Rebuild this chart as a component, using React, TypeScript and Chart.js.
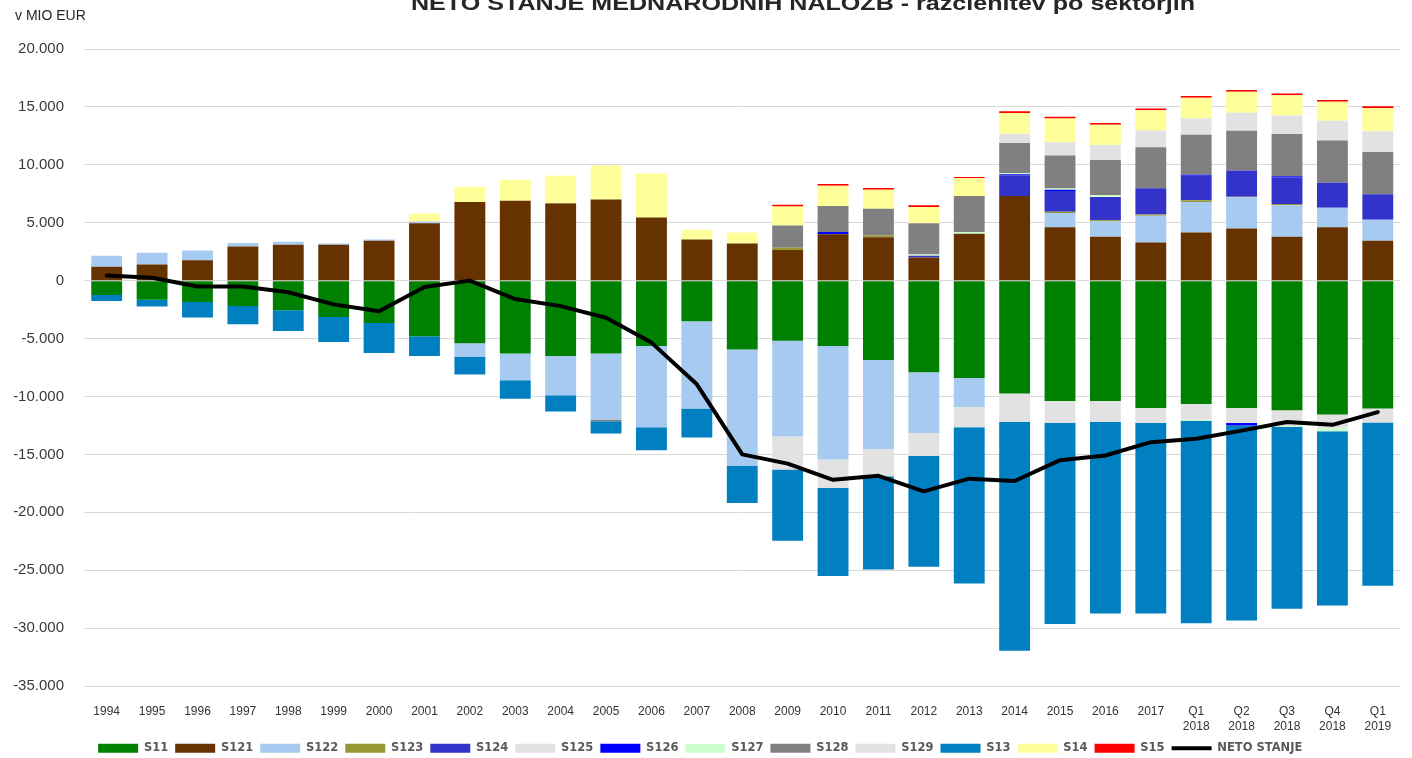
import { useEffect, useRef } from 'react';
import { Chart, registerables } from 'chart.js';

Chart.register(...registerables);

const TITLE = 'NETO STANJE MEDNARODNIH NALOŽB - razčlenitev po sektorjih';
const UNIT = 'v MIO EUR';

const categories: (string | string[])[] = [
  '1994', '1995', '1996', '1997', '1998', '1999', '2000', '2001', '2002', '2003',
  '2004', '2005', '2006', '2007', '2008', '2009', '2010', '2011', '2012', '2013',
  '2014', '2015', '2016', '2017',
  ['Q1', '2018'], ['Q2', '2018'], ['Q3', '2018'], ['Q4', '2018'], ['Q1', '2019'],
];

const s11 = [-1250, -1650, -1850, -2200, -2550, -3150, -3650, -4800, -5400, -6300,
  -6500, -6300, -5650, -3500, -5950, -5200, -5650, -6850, -7900, -8400,
  -9750, -10400, -10400, -11000, -10650, -11000, -11200, -11550, -11050];
const s121 = [1200, 1400, 1750, 2950, 3100, 3100, 3450, 4950, 6800, 6900,
  6650, 7000, 5450, 3550, 3200, 2650, 4000, 3750, 2000, 4050,
  7300, 4600, 3800, 3300, 4150, 4500, 3800, 4600, 3450];
const s122 = [950, 1000, 850, 300, 250, 100, 100, 150, -1200, -2300,
  -3400, -5700, -7000, -7550, -10050, -8250, -9800, -7700, -5250, -2500,
  0, 1250, 1300, 2300, 2650, 2700, 2700, 1700, 1800];
const s123 = [0, 0, 0, 0, 0, 0, 0, 0, 0, 0,
  60, 0, 0, 0, 0, 200, 0, 150, 0, 0,
  0, 100, 120, 120, 150, 50, 120, 0, 0];
const s124 = [0, 0, 0, 0, 0, 0, 0, 0, 0, 0,
  0, 0, 0, 0, 0, 0, 0, 0, 150, 0,
  1800, 1800, 2000, 2250, 2100, 2250, 2300, 2150, 2200];
const s125 = [0, 0, 0, 0, 0, 0, 0, 0, 0, 0,
  0, 0, 0, 0, 0, -2850, -2450, -2350, -2000, -1750,
  -2450, -1900, -1800, -1300, -1350, -1300, -1350, -1150, -1200];
const s126 = [0, 0, 0, 0, 0, 0, 0, 0, 0, 0,
  0, 0, 0, 0, 0, 0, 200, 0, 0, 0,
  80, 100, 0, 0, 90, -200, 90, 0, 0];
const s127 = [0, 0, 0, 0, 0, 0, 0, 0, 0, 0,
  0, 0, 0, 0, 0, 0, 0, 0, 100, 150,
  100, 100, 150, 0, -90, 0, -80, -300, 0];
const s128 = [0, 0, 0, 0, 0, 0, 0, 0, 0, 0,
  0, -150, 0, 0, 0, 1900, 2250, 2300, 2700, 3100,
  2600, 2850, 3050, 3550, 3450, 3450, 3650, 3650, 3650];
const s129 = [0, 0, 0, 0, 0, 0, 0, 0, 0, 0,
  0, 0, 0, 0, 0, 0, 0, 0, 0, 0,
  800, 1150, 1300, 1450, 1400, 1550, 1600, 1700, 1800];
const s13 = [-500, -580, -1330, -1560, -1800, -2150, -2600, -1700, -1500, -1600,
  -1400, -1050, -2000, -2500, -3200, -6150, -7600, -8050, -9550, -13500,
  -19750, -17350, -16550, -16450, -17500, -16850, -15700, -15050, -14100];
const s14 = [0, 0, 0, 0, 0, 0, 0, 700, 1300, 1800,
  2350, 2950, 3800, 850, 950, 1650, 1750, 1650, 1400, 1550,
  1800, 2050, 1750, 1750, 1800, 1800, 1750, 1650, 2000];
const s15 = [0, 0, 0, 0, 0, 0, 0, 0, 0, 0,
  0, 0, 0, 0, 0, 150, 150, 150, 150, 100,
  150, 150, 150, 150, 150, 150, 150, 150, 150];
const netoStanje = [450, 250, -500, -500, -1000, -2050, -2650, -550, 0, -1590,
  -2200, -3200, -5350, -8950, -15000, -15800, -17200, -16850, -18200, -17100,
  -17300, -15500, -15100, -13950, -13650, -12950, -12200, -12450, -11350];

const yMin = -35000;
const yMax = 20000;
const yStep = 5000;

const barSeries: { label: string; data: number[]; color: string }[] = [
  { label: 'S11', data: s11, color: '#008000' },
  { label: 'S121', data: s121, color: '#663300' },
  { label: 'S122', data: s122, color: '#A6CAF0' },
  { label: 'S123', data: s123, color: '#999933' },
  { label: 'S124', data: s124, color: '#3333CC' },
  { label: 'S125', data: s125, color: '#E2E2E2' },
  { label: 'S126', data: s126, color: '#0000FF' },
  { label: 'S127', data: s127, color: '#CCFFCC' },
  { label: 'S128', data: s128, color: '#808080' },
  { label: 'S129', data: s129, color: '#E2E2E2' },
  { label: 'S13', data: s13, color: '#0080C0' },
  { label: 'S14', data: s14, color: '#FFFF99' },
  { label: 'S15', data: s15, color: '#FF0000' },
];

function fmt(v: number): string {
  const s = Math.abs(Math.round(v)).toString().replace(/\B(?=(\d{3})+(?!\d))/g, '.');
  return (v < 0 ? '-' : '') + s;
}

const textPlugin = {
  id: 'customTexts',
  afterDraw(chart: any) {
    const ctx = chart.ctx as CanvasRenderingContext2D;
    ctx.save();
    ctx.fillStyle = '#262626';
    ctx.font = "bold 21px 'Liberation Sans Narrow', 'Liberation Sans', sans-serif";
    const w = ctx.measureText(TITLE).width;
    let sx = 784 / w;
    if (sx > 1.2) sx = 1.2;
    if (sx < 0.8) sx = 0.8;
    ctx.translate(803, 10);
    ctx.scale(sx, 1);
    ctx.textAlign = 'center';
    ctx.textBaseline = 'alphabetic';
    ctx.fillText(TITLE, 0, 0);
    ctx.restore();

    ctx.save();
    ctx.fillStyle = '#262626';
    ctx.font = "14px 'Liberation Sans', sans-serif";
    ctx.textAlign = 'left';
    ctx.textBaseline = 'middle';
    ctx.fillText(UNIT, 15, 16);
    ctx.restore();
  },
};

export default function App() {
  const ref = useRef<HTMLCanvasElement | null>(null);

  useEffect(() => {
    if (!ref.current) return;
    const datasets: any[] = barSeries.map((s) => ({
      type: 'bar',
      label: s.label,
      data: s.data,
      backgroundColor: s.color,
      borderWidth: 0,
      stack: 'main',
      categoryPercentage: 1,
      barPercentage: 0.68,
    }));
    datasets.push({
      type: 'line',
      label: 'NETO STANJE',
      data: netoStanje,
      borderColor: '#000000',
      backgroundColor: '#000000',
      borderWidth: 4,
      pointRadius: 0,
      tension: 0,
      borderJoinStyle: 'round',
      borderCapStyle: 'round',
      stack: 'net',
      order: -1,
    });

    const chart = new Chart(ref.current, {
      type: 'bar',
      data: { labels: categories as any, datasets },
      plugins: [textPlugin],
      options: {
        animation: false,
        responsive: false,
        layout: { padding: { left: 0, right: 11.5, top: 49, bottom: 0 } },
        plugins: {
          title: { display: false },
          tooltip: { enabled: false },
          legend: {
            position: 'bottom',
            labels: {
              usePointStyle: true,
              pointStyleWidth: 40,
              boxHeight: 9,
              padding: 7,
              color: '#595959',
              font: { family: "'DejaVu Sans', sans-serif", size: 11.5, weight: 'bold' },
              sort: (a: any, b: any) => a.datasetIndex - b.datasetIndex,
              generateLabels: (c: any) => {
                const items = (Chart.defaults.plugins.legend.labels as any).generateLabels(c);
                return items.map((it: any) => {
                  const ds = c.data.datasets[it.datasetIndex];
                  if (ds.type === 'line') {
                    return { ...it, pointStyle: 'line', lineWidth: 4, strokeStyle: '#000000', fillStyle: '#000000' };
                  }
                  return { ...it, pointStyle: 'rect', lineWidth: 0, fillStyle: ds.backgroundColor, strokeStyle: ds.backgroundColor };
                });
              },
            },
          },
        },
        scales: {
          x: {
            stacked: true,
            grid: { display: false },
            border: { display: false },
            ticks: {
              autoSkip: false,
              maxRotation: 0,
              minRotation: 0,
              padding: 10,
              color: '#333333',
              font: { family: "'Liberation Sans', sans-serif", size: 12, lineHeight: 1.25 },
            },
            afterFit: (axis: any) => { axis.height = 49.5; },
          },
          y: {
            stacked: true,
            min: yMin,
            max: yMax,
            grid: { color: '#D9D9D9', lineWidth: 1, drawTicks: false },
            border: { display: false },
            ticks: {
              stepSize: yStep,
              padding: 20,
              color: '#3A3A3A',
              font: { family: "'Liberation Sans', sans-serif", size: 15 },
              callback: (v: any) => fmt(Number(v)),
            },
            afterFit: (axis: any) => { axis.width = 84; },
          },
        },
      } as any,
    });
    return () => chart.destroy();
  }, []);

  return (
    <div style={{ position: 'fixed', left: 0, top: 0, width: 1412, height: 758, overflow: 'hidden', background: '#ffffff' }}>
      <canvas ref={ref} width={1412} height={764} style={{ display: 'block', width: 1412, height: 764 }} />
    </div>
  );
}
